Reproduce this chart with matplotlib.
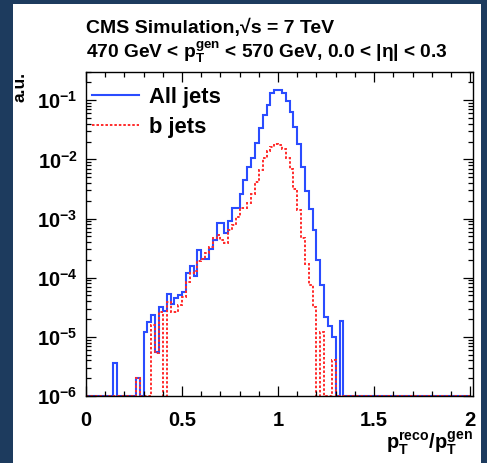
"""
plot.py

Jet pT response (reco/gen) for all jets and b jets, CMS simulation style.
"""

import matplotlib
matplotlib.use("Agg")
import matplotlib.pyplot as plt
import numpy as np
from matplotlib.patches import Rectangle
from matplotlib.ticker import FixedLocator, MultipleLocator, LogLocator, NullFormatter

# --- data: normalised pT response, 100 bins on [0, 2] ---
x_range = (0.0, 2.0)
n_bins = 100

all_jets = [
    0, 0, 0, 0, 0, 0, 0, 3.6e-6, 0, 0,
    0, 0, 0, 2.0e-6, 0, 1.2e-5, 1.8e-5, 2.3e-5, 5.5e-6, 3.2e-5,
    2.7e-5, 5.2e-5, 3.6e-5, 4.6e-5, 5.0e-5, 5.8e-5, 1.18e-4, 1.6e-4, 1.05e-4, 2.9e-4,
    2.05e-4, 2.1e-4, 3.0e-4, 4.4e-4, 8.3e-4, 8.3e-4, 5.8e-4, 9.2e-4, 1.5e-3, 1.5e-3,
    2.6e-3, 4.5e-3, 7.3e-3, 1.07e-2, 1.9e-2, 3.4e-2, 5.7e-2, 8.4e-2, 0.13, 0.15,
    0.15, 0.133, 0.096, 0.063, 0.035, 0.018, 7.3e-3, 2.9e-3, 1.45e-3, 6.3e-4,
    2.0e-4, 7.5e-5, 2.2e-5, 1.5e-5, 1.0e-5, 0, 1.85e-5, 0, 0, 0,
    0, 0, 0, 0, 0, 0, 0, 0, 0, 0,
    0, 0, 0, 0, 0, 0, 0, 0, 0, 0,
    0, 0, 0, 0, 0, 0, 0, 0, 0, 0,
]

b_jets = [
    0, 0, 0, 0, 0, 0, 0, 0, 0, 0,
    0, 0, 0, 2.0e-6, 0, 0, 0, 1.6e-5, 5.3e-6, 2.6e-5,
    0, 3.9e-5, 2.6e-5, 2.6e-5, 3.5e-5, 4.8e-5, 8.5e-5, 1.2e-4, 1.3e-4, 1.9e-4,
    2.1e-4, 2.6e-4, 3.3e-4, 4.6e-4, 5.2e-4, 4.3e-4, 3.8e-4, 6.3e-4, 7.7e-4, 1.07e-3,
    1.5e-3, 1.5e-3, 1.8e-3, 2.6e-3, 4.2e-3, 6.6e-3, 1.04e-2, 1.4e-2, 1.65e-2, 1.8e-2,
    1.75e-2, 1.5e-2, 1.04e-2, 7.0e-3, 3.2e-3, 1.4e-3, 4.6e-4, 1.7e-4, 7.5e-5, 3.2e-5,
    0, 1.2e-5, 0, 0, 4.0e-6, 0, 0, 0, 0, 0,
    0, 0, 0, 0, 0, 0, 0, 0, 0, 0,
    0, 0, 0, 0, 0, 0, 0, 0, 0, 0,
    0, 0, 0, 0, 0, 0, 0, 0, 0, 0,
]

labels = ["All jets", "b jets"]
xticks = [0, 0.5, 1, 1.5, 2]
xtick_labels = ["0", "0.5", "1", "1.5", "2"]
yticks = [1e-6, 1e-5, 1e-4, 1e-3, 1e-2, 1e-1]
ytick_labels = [r"$10^{-6}$", r"$10^{-5}$", r"$10^{-4}$", r"$10^{-3}$",
                r"$10^{-2}$", r"$10^{-1}$"]

title1 = "CMS Simulation,\u221as = 7 TeV"
title2 = "470 GeV < $p_{T}^{gen}$ < 570 GeV, 0.0 < |\u03b7| < 0.3"
xlabel = r"$p_{T}^{reco}/p_{T}^{gen}$"
ylabel = "a.u."

# --- style ---
plt.rcParams["font.family"] = ["Liberation Sans", "DejaVu Sans"]
plt.rcParams["font.weight"] = "bold"
plt.rcParams["mathtext.fontset"] = "custom"
plt.rcParams["mathtext.rm"] = "Liberation Sans:bold"
plt.rcParams["mathtext.it"] = "Liberation Sans:bold"
plt.rcParams["mathtext.bf"] = "Liberation Sans:bold"
plt.rcParams["mathtext.default"] = "rm"

W, H = 487, 463
fig = plt.figure(figsize=(W / 100, H / 100), dpi=100)
fig.patch.set_facecolor("#1d3b5e")
fig.add_artist(Rectangle((12.5 / W, 0), (481 - 12.5) / W, (H - 4) / H,
                         transform=fig.transFigure, facecolor="white",
                         edgecolor="none", zorder=-1))

ax = fig.add_axes([86 / W, 1 - 396 / H, (473 - 86) / W, (396 - 72) / H])

edges = np.linspace(x_range[0], x_range[1], n_bins + 1)
ymin, ymax = 1e-6, 0.3
# empty bins sit on the frame, as in ROOT
ax.stairs(np.maximum(all_jets, ymin), edges, baseline=None,
          color="#2a4cff", lw=1.5, label=labels[0])
ax.stairs(np.maximum(b_jets, ymin), edges, baseline=None,
          color="#ff2b2b", lw=1.4, ls=(0, (1.3, 1.0)), label=labels[1])

ax.set_yscale("log")
ax.set_xlim(0, 2.015)
ax.set_ylim(ymin, ymax)

ax.xaxis.set_major_locator(FixedLocator(xticks))
ax.set_xticklabels(xtick_labels)
ax.xaxis.set_minor_locator(MultipleLocator(0.1))
ax.yaxis.set_major_locator(FixedLocator(yticks))
ax.set_yticklabels(ytick_labels)
ax.yaxis.set_minor_locator(LogLocator(base=10, subs=np.arange(2, 10)))
ax.yaxis.set_minor_formatter(NullFormatter())

ax.tick_params(which="both", direction="in", top=True, right=True,
               width=0.9, colors="black")
ax.tick_params(which="major", length=7.2)
ax.tick_params(which="minor", length=3.6)
ax.tick_params(axis="x", which="major", labelsize=14.5, pad=11)
ax.tick_params(axis="y", which="major", labelsize=14.5, pad=6)
for s in ax.spines.values():
    s.set_linewidth(1.0)

ax.legend(loc="upper left", bbox_to_anchor=(0.0155, 0.955), frameon=False,
          borderpad=0, borderaxespad=0, handlelength=2.15, handletextpad=0.45,
          labelspacing=0.42, fontsize=15.8)

fig.text(86 / W, 1 - 33 / H, title1, fontsize=14, va="baseline", ha="left")
fig.text(86 / W, 1 - 58 / H, title2, fontsize=13.8, va="baseline", ha="left")
fig.text(473 / W, 1 - 449 / H, xlabel, fontsize=14.5, va="baseline", ha="right")
fig.text(20 / W, 1 - 72 / H, ylabel, fontsize=12.5, rotation=90,
         va="top", ha="center")

fig.savefig("out.png", dpi=100)
